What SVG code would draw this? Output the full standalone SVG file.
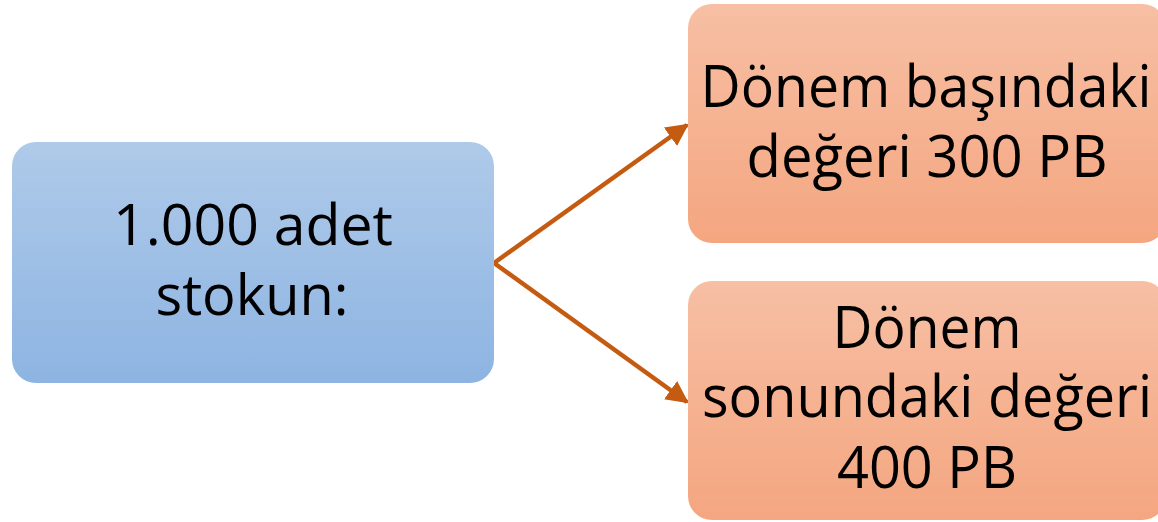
<svg xmlns="http://www.w3.org/2000/svg" width="1158" height="522" viewBox="0 0 1158 522">
<defs>
<linearGradient id="gBlue" x1="0" y1="0" x2="0" y2="1"><stop offset="0" stop-color="#AFCAE9"/><stop offset="1" stop-color="#8DB4E2"/></linearGradient>
<linearGradient id="gOrange" x1="0" y1="0" x2="0" y2="1"><stop offset="0" stop-color="#F7BFA4"/><stop offset="1" stop-color="#F4A680"/></linearGradient>
<marker id="arr" viewBox="0 0 10 10" refX="9" refY="5" markerWidth="5" markerHeight="5" orient="auto" markerUnits="strokeWidth"><path d="M0,0 L10,5 L0,10 z" fill="#C55A11"/></marker>
</defs>
<style>
text{font-family:"Open Sans","Noto Sans",sans-serif;fill:#000;text-anchor:middle}
.c{stroke:#C55A11;stroke-width:4.5;fill:none}
</style>
<rect width="1158" height="522" fill="#fff"/>
<g id="connectors">
<line class="c" x1="494" y1="263" x2="687" y2="125" marker-end="url(#arr)"/>
<line class="c" x1="494" y1="263" x2="687" y2="402" marker-end="url(#arr)"/>
</g>
<g id="n1">
<rect x="12" y="142" width="482" height="241" rx="24" fill="url(#gBlue)"/>
<text x="253" y="245" font-size="56" textLength="280" lengthAdjust="spacingAndGlyphs">1.000 adet</text>
<text x="252" y="315" font-size="56" textLength="193" lengthAdjust="spacingAndGlyphs">stokun:</text>
</g>
<g id="n2">
<rect x="688" y="4" width="478" height="239" rx="24" fill="url(#gOrange)"/>
<text x="926" y="107" font-size="58" textLength="451" lengthAdjust="spacingAndGlyphs">Dönem başındaki</text>
<text x="927" y="177" font-size="58" textLength="361" lengthAdjust="spacingAndGlyphs">değeri 300 PB</text>
</g>
<g id="n3">
<rect x="688" y="281" width="478" height="239" rx="24" fill="url(#gOrange)"/>
<text x="927" y="348" font-size="58" textLength="189" lengthAdjust="spacingAndGlyphs">Dönem</text>
<text x="927" y="417" font-size="58" textLength="450" lengthAdjust="spacingAndGlyphs">sonundaki değeri</text>
<text x="927" y="488" font-size="58" textLength="180" lengthAdjust="spacingAndGlyphs">400 PB</text>
</g>
</svg>
